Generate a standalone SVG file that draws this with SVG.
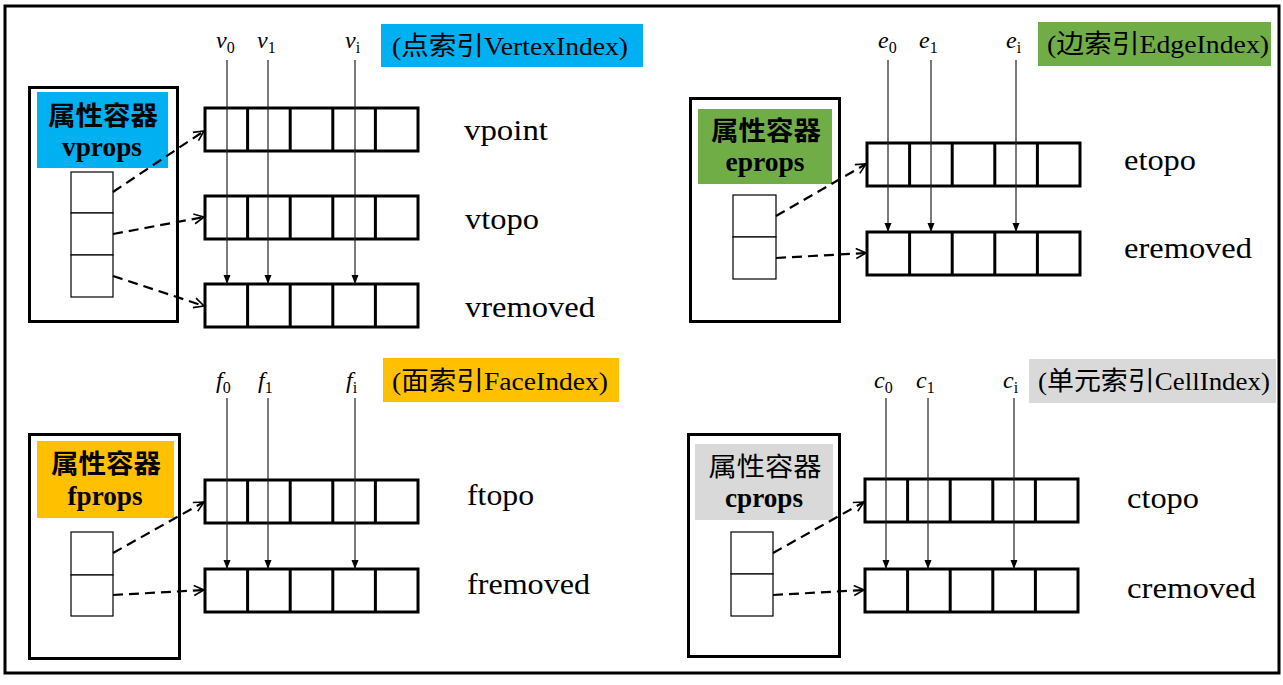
<svg xmlns="http://www.w3.org/2000/svg" xmlns:xlink="http://www.w3.org/1999/xlink" width="1283" height="685" viewBox="0 0 1283 685">
<style>
.frame{fill:#fff;stroke:#000;stroke-width:3}
.cont{fill:#fff;stroke:#000;stroke-width:3}
.slot{fill:#fff;stroke:#000;stroke-width:1.2}
.idx{stroke:#222;stroke-width:1.2;fill:none}
.dash{stroke:#000;stroke-width:2.2;stroke-dasharray:10,6;fill:none}
.cjk{font-family:"Liberation Serif","Noto Sans CJK SC",serif;font-size:26px;fill:#000}
.lab{font-family:"Liberation Serif","Noto Sans CJK SC",serif;font-size:26px;font-weight:bold;fill:#000}
.name{font-family:"Liberation Serif",serif;font-size:28px;fill:#000}
.row{font-family:"Liberation Serif",serif;font-size:29px;fill:#000}
.m{font-family:"Liberation Serif",serif;font-style:italic;font-size:24px;fill:#000}
.sub{font-style:normal;font-size:16px}
</style>
<defs>
<g id="arr">
<rect x="0" y="0" width="213" height="43" fill="#fff" stroke="#000" stroke-width="3"/>
<path d="M42.6 0V43M85.2 0V43M127.8 0V43M170.4 0V43" stroke="#000" stroke-width="3"/>
</g>
<marker id="tri" viewBox="0 -4 9 8" refX="9" refY="0" markerWidth="9" markerHeight="8" markerUnits="userSpaceOnUse" orient="auto">
<path d="M0,-3.5L9,0L0,3.5z" fill="#000"/>
</marker>
<marker id="open" viewBox="-1 -6 12 12" refX="10" refY="0" markerWidth="12" markerHeight="12" markerUnits="userSpaceOnUse" orient="auto">
<path d="M0,-5L10,0L0,5" fill="none" stroke="#000" stroke-width="1.6"/>
</marker>
</defs>
<rect class="frame" x="5" y="6" width="1274" height="667"/>

<!-- Top-left: vertex -->
<g id="v-container">
<rect class="cont" x="29.5" y="87.5" width="148" height="234"/>
<rect x="37" y="92" width="131" height="76" fill="#00B0F0"/>
<text class="lab" x="103" y="125" text-anchor="middle" textLength="110" lengthAdjust="spacingAndGlyphs">属性容器</text>
<text class="name" font-weight="bold" x="102" y="156" text-anchor="middle" textLength="80" lengthAdjust="spacingAndGlyphs">vprops</text>
<rect class="slot" x="71" y="172" width="42" height="41"/>
<rect class="slot" x="71" y="213" width="42" height="42"/>
<rect class="slot" x="71" y="255" width="42" height="42"/>
</g>
<g id="v-index-label">
<rect x="381" y="24" width="262" height="43" fill="#00B0F0"/>
<text class="cjk" x="392" y="55" textLength="236" lengthAdjust="spacingAndGlyphs">(点索引VertexIndex)</text>
</g>
<g id="vpoint"><use xlink:href="#arr" x="205" y="108"/><text class="row" x="464" y="140" textLength="84" lengthAdjust="spacingAndGlyphs">vpoint</text></g>
<g id="vtopo"><use xlink:href="#arr" x="205" y="196"/><text class="row" x="465" y="229" textLength="74" lengthAdjust="spacingAndGlyphs">vtopo</text></g>
<g id="vremoved"><use xlink:href="#arr" x="205" y="284"/><text class="row" x="465" y="317" textLength="130" lengthAdjust="spacingAndGlyphs">vremoved</text></g>
<g id="v-indices">
<text class="m" x="216" y="48">v<tspan class="sub" dy="5">0</tspan></text>
<text class="m" x="257" y="48">v<tspan class="sub" dy="5">1</tspan></text>
<text class="m" x="345" y="48">v<tspan class="sub" dy="5">i</tspan></text>
</g>

<!-- Top-right: edge -->
<g id="e-container">
<rect class="cont" x="690.5" y="98.5" width="149" height="223"/>
<rect x="698" y="109" width="134" height="75" fill="#70AD47"/>
<text class="lab" x="766" y="140" text-anchor="middle" textLength="110" lengthAdjust="spacingAndGlyphs">属性容器</text>
<text class="name" font-weight="bold" x="765" y="171" text-anchor="middle" textLength="79" lengthAdjust="spacingAndGlyphs">eprops</text>
<rect class="slot" x="733" y="195" width="43" height="42"/>
<rect class="slot" x="733" y="237" width="43" height="42"/>
</g>
<g id="e-index-label">
<rect x="1038" y="22" width="233" height="44" fill="#70AD47"/>
<text class="cjk" x="1047" y="53" textLength="222" lengthAdjust="spacingAndGlyphs">(边索引EdgeIndex)</text>
</g>
<g id="etopo"><use xlink:href="#arr" x="867" y="143"/><text class="row" x="1124" y="170" textLength="72" lengthAdjust="spacingAndGlyphs">etopo</text></g>
<g id="eremoved"><use xlink:href="#arr" x="867" y="232"/><text class="row" x="1124" y="258" textLength="128" lengthAdjust="spacingAndGlyphs">eremoved</text></g>
<g id="e-indices">
<text class="m" x="878" y="48">e<tspan class="sub" dy="5">0</tspan></text>
<text class="m" x="919" y="48">e<tspan class="sub" dy="5">1</tspan></text>
<text class="m" x="1006" y="48">e<tspan class="sub" dy="5">i</tspan></text>
</g>

<!-- Bottom-left: face -->
<g id="f-container">
<rect class="cont" x="29.5" y="434.5" width="150" height="224"/>
<rect x="37" y="441" width="137" height="77" fill="#FFC000"/>
<text class="lab" x="106" y="473" text-anchor="middle" textLength="110" lengthAdjust="spacingAndGlyphs">属性容器</text>
<text class="name" font-weight="bold" x="105" y="505" text-anchor="middle" textLength="75" lengthAdjust="spacingAndGlyphs">fprops</text>
<rect class="slot" x="71" y="532" width="42" height="43"/>
<rect class="slot" x="71" y="575" width="42" height="41"/>
</g>
<g id="f-index-label">
<rect x="383" y="358" width="236" height="44" fill="#FFC000"/>
<text class="cjk" x="392" y="390" textLength="216" lengthAdjust="spacingAndGlyphs">(面索引FaceIndex)</text>
</g>
<g id="ftopo"><use xlink:href="#arr" x="205" y="480"/><text class="row" x="467" y="505" textLength="67" lengthAdjust="spacingAndGlyphs">ftopo</text></g>
<g id="fremoved"><use xlink:href="#arr" x="205" y="569"/><text class="row" x="467" y="594" textLength="123" lengthAdjust="spacingAndGlyphs">fremoved</text></g>
<g id="f-indices">
<text class="m" x="216" y="388">f<tspan class="sub" dy="5">0</tspan></text>
<text class="m" x="258" y="388">f<tspan class="sub" dy="5">1</tspan></text>
<text class="m" x="346" y="388">f<tspan class="sub" dy="5">i</tspan></text>
</g>

<!-- Bottom-right: cell -->
<g id="c-container">
<rect class="cont" x="688.5" y="434.5" width="151" height="222"/>
<rect x="695" y="444" width="138" height="76" fill="#D9D9D9"/>
<text class="cjk" x="765" y="476" text-anchor="middle" textLength="113" lengthAdjust="spacingAndGlyphs">属性容器</text>
<text class="name" font-weight="bold" x="764" y="507" text-anchor="middle" textLength="78" lengthAdjust="spacingAndGlyphs">cprops</text>
<rect class="slot" x="731" y="532" width="42" height="42"/>
<rect class="slot" x="731" y="574" width="42" height="42"/>
</g>
<g id="c-index-label">
<rect x="1029" y="359" width="247" height="44" fill="#D9D9D9"/>
<text class="cjk" x="1038" y="390" textLength="232" lengthAdjust="spacingAndGlyphs">(单元索引CellIndex)</text>
</g>
<g id="ctopo"><use xlink:href="#arr" x="865" y="479"/><text class="row" x="1127" y="508" textLength="72" lengthAdjust="spacingAndGlyphs">ctopo</text></g>
<g id="cremoved"><use xlink:href="#arr" x="865" y="569"/><text class="row" x="1127" y="598" textLength="129" lengthAdjust="spacingAndGlyphs">cremoved</text></g>
<g id="c-indices">
<text class="m" x="874" y="388">c<tspan class="sub" dy="5">0</tspan></text>
<text class="m" x="916" y="388">c<tspan class="sub" dy="5">1</tspan></text>
<text class="m" x="1003" y="388">c<tspan class="sub" dy="5">i</tspan></text>
</g>

<g id="connectors">
<line class="idx" x1="227" y1="60" x2="227" y2="284" marker-end="url(#tri)"/>
<line class="idx" x1="268" y1="60" x2="268" y2="284" marker-end="url(#tri)"/>
<line class="idx" x1="355" y1="60" x2="355" y2="284" marker-end="url(#tri)"/>
<line class="idx" x1="888" y1="60" x2="888" y2="232" marker-end="url(#tri)"/>
<line class="idx" x1="931" y1="60" x2="931" y2="232" marker-end="url(#tri)"/>
<line class="idx" x1="1016" y1="60" x2="1016" y2="232" marker-end="url(#tri)"/>
<line class="idx" x1="227" y1="398" x2="227" y2="569" marker-end="url(#tri)"/>
<line class="idx" x1="268" y1="398" x2="268" y2="569" marker-end="url(#tri)"/>
<line class="idx" x1="355" y1="398" x2="355" y2="569" marker-end="url(#tri)"/>
<line class="idx" x1="886" y1="398" x2="886" y2="569" marker-end="url(#tri)"/>
<line class="idx" x1="928" y1="398" x2="928" y2="569" marker-end="url(#tri)"/>
<line class="idx" x1="1014" y1="398" x2="1014" y2="569" marker-end="url(#tri)"/>
<line class="dash" x1="113" y1="192" x2="204" y2="131" marker-end="url(#open)"/>
<line class="dash" x1="113" y1="234" x2="204" y2="217" marker-end="url(#open)"/>
<line class="dash" x1="113" y1="276" x2="204" y2="306" marker-end="url(#open)"/>
<line class="dash" x1="776" y1="216" x2="866" y2="164" marker-end="url(#open)"/>
<line class="dash" x1="776" y1="258" x2="866" y2="253" marker-end="url(#open)"/>
<line class="dash" x1="113" y1="553" x2="204" y2="502" marker-end="url(#open)"/>
<line class="dash" x1="113" y1="595" x2="204" y2="590" marker-end="url(#open)"/>
<line class="dash" x1="773" y1="553" x2="864" y2="502" marker-end="url(#open)"/>
<line class="dash" x1="773" y1="595" x2="864" y2="590" marker-end="url(#open)"/>
</g>
</svg>
